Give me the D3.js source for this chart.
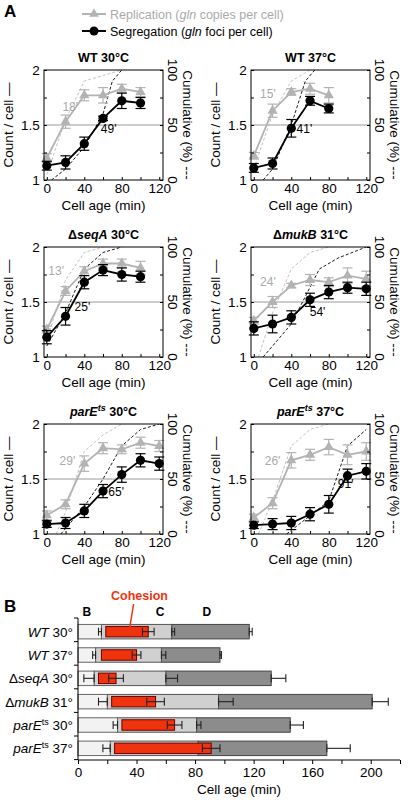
<!DOCTYPE html>
<html><head><meta charset="utf-8">
<script src="https://cdn.jsdelivr.net/npm/d3@7"></script>
<style>body{margin:0;background:#fff}text{font-family:Arial,"Liberation Sans",sans-serif}</style>
</head><body><svg id="c" width="408" height="800"></svg>
<script>
// Panel A data: [prefix, italic name, suffix]
const titles = [["", "WT", " 30°C"], ["", "WT", " 37°C"], ["Δ", "seqA", " 30°C"], ["Δ", "mukB", " 31°C"], ["", "parE", " 30°C"], ["", "parE", " 37°C"]];
const ages = [0, 20, 40, 60, 80, 100, 120];
const repValues = [
  [1.20, 1.53, 1.77, 1.77, 1.83, 1.80],
  [1.22, 1.63, 1.80, 1.83, 1.77],
  [1.25, 1.60, 1.78, 1.85, 1.85, 1.81],
  [1.33, 1.50, 1.65, 1.70, 1.68, 1.74, 1.71],
  [1.17, 1.27, 1.64, 1.78, 1.77, 1.83, 1.80],
  [1.15, 1.28, 1.67, 1.72, 1.79, 1.72, 1.75]
];
const repErr = [
  [0.04, 0.06, 0.05, 0.07, 0.04, 0.04],
  [0.03, 0.06, 0.03, 0.05, 0.07],
  [0.03, 0.04, 0.04, 0.04, 0.04, 0.06],
  [0.03, 0.05, 0.02, 0.05, 0.04, 0.07, 0.07],
  [0.04, 0.04, 0.07, 0.05, 0.04, 0.05, 0.05],
  [0.03, 0.05, 0.07, 0.05, 0.07, 0.09, 0.08]
];
const segValues = [
  [1.13, 1.16, 1.33, 1.56, 1.72, 1.70],
  [1.11, 1.15, 1.47, 1.72, 1.65],
  [1.18, 1.37, 1.68, 1.79, 1.75, 1.73],
  [1.26, 1.30, 1.36, 1.52, 1.59, 1.63, 1.62],
  [1.09, 1.10, 1.21, 1.39, 1.54, 1.67, 1.64],
  [1.08, 1.09, 1.10, 1.18, 1.27, 1.53, 1.57]
];
const segErr = [
  [0.04, 0.06, 0.06, 0.02, 0.07, 0.05],
  [0.04, 0.05, 0.08, 0.04, 0.04],
  [0.06, 0.08, 0.06, 0.05, 0.06, 0.05],
  [0.06, 0.08, 0.06, 0.06, 0.06, 0.05, 0.06],
  [0.03, 0.05, 0.06, 0.06, 0.07, 0.06, 0.06],
  [0.03, 0.05, 0.06, 0.06, 0.08, 0.06, 0.07]
];
const repCum = [
  [[0, 5], [20, 55], [40, 90], [60, 95], [80, 100]],
  [[0, 10], [20, 60], [40, 90], [60, 100]],
  [[0, 15], [20, 70], [40, 95], [60, 100]],
  [[5, 0], [20, 40], [40, 80], [60, 95], [80, 100]],
  [[10, 0], [20, 20], [40, 75], [60, 90], [80, 100]],
  [[5, 0], [20, 30], [40, 80], [60, 95], [80, 100]]
];
const segCum = [
  [[5, 0], [20, 10], [40, 30], [60, 60], [70, 90], [80, 100]],
  [[10, 0], [20, 10], [40, 50], [55, 90], [65, 100]],
  [[0, 10], [20, 40], [40, 80], [60, 95], [80, 100]],
  [[10, 0], [40, 30], [70, 80], [90, 90], [120, 100]],
  [[15, 0], [40, 25], [60, 50], [80, 80], [100, 95], [120, 100]],
  [[35, 0], [80, 30], [100, 80], [120, 95]]
];
const repLabel = [["18'", 25, 1.63], ["15'", 15, 1.75], ["13'", 10, 1.75], ["24'", 15, 1.65], ["29'", 22, 1.63], ["26'", 20, 1.63]];
const segLabel = [["49'", 66, 1.43], ["41'", 54, 1.43], ["25'", 38, 1.42], ["54'", 68, 1.37], ["65'", 74, 1.35], ["91'", 98, 1.42]];

// Panel B data
const strains = [["", "WT", " 30°", ""], ["", "WT", " 37°", ""], ["Δ", "seqA", " 30°", ""], ["Δ", "mukB", " 31°", ""], ["", "parE", " 30°", "ts"], ["", "parE", " 37°", "ts"]];
const bEnd = [16, 12, 11, 20, 27, 22], bErr = [2, 2, 7, 6, 3, 5];
const cEnd = [64, 57, 60, 96, 81, 82], cErr = [2, 3, 8, 10, 3, 0];
const dEnd = [117, 97, 132, 201, 145, 170], dErr = [2, 1, 10, 11, 9, 16];
const cohStart = [19, 16, 14, 23, 30, 25], cohEnd = [48, 40, 26, 53, 66, 91], cohErr = [4, 3, 5, 6, 5, 6];

const svg = d3.select('#c');
const grey = '#b3b3b3';

svg.append('text').attr('x', 4).attr('y', 17).attr('font-size', 17).attr('font-weight', 'bold').text('A');
svg.append('text').attr('x', 4).attr('y', 612).attr('font-size', 17).attr('font-weight', 'bold').text('B');

// legend
const lg = svg.append('g');
lg.append('line').attr('x1', 82).attr('x2', 106).attr('y1', 14).attr('y2', 14).attr('stroke', grey).attr('stroke-width', 2);
lg.append('path').attr('d', d3.symbol(d3.symbolTriangle, 40)()).attr('transform', 'translate(94,14)').attr('fill', grey);
lg.append('text').attr('x', 110).attr('y', 19).attr('font-size', 12.5).attr('fill', '#aaa')
  .html('Replication (<tspan font-style="italic">gln</tspan> copies per cell)');
lg.append('line').attr('x1', 82).attr('x2', 106).attr('y1', 31).attr('y2', 31).attr('stroke', '#000').attr('stroke-width', 2);
lg.append('circle').attr('cx', 94).attr('cy', 31).attr('r', 4.5);
lg.append('text').attr('x', 110).attr('y', 36).attr('font-size', 12.5)
  .html('Segregation (<tspan font-style="italic">gln</tspan> foci per cell)');

function panel(i) {
  const col = i % 2, row = Math.floor(i / 2);
  const left = col ? 251 : 44, top = 70 + row * 177;
  const w = 119, h = 110;
  const g = svg.append('g').attr('transform', `translate(${left},${top})`);
  const x = d3.scaleLinear().domain([-3, 124]).range([0, w]);
  const y = d3.scaleLinear().domain([1, 2]).range([h, 0]);
  const yr = d3.scaleLinear().domain([0, 100]).range([h, 0]);

  const t = g.append('text').attr('x', w / 2).attr('y', -8).attr('text-anchor', 'middle')
    .attr('font-size', 12.5).attr('font-weight', 'bold');
  if (titles[i][0]) t.append('tspan').text(titles[i][0]);
  t.append('tspan').attr('font-style', i >= 2 ? 'italic' : null).text(titles[i][1]);
  if (i >= 4) t.append('tspan').attr('font-style', 'italic').attr('font-size', 9).attr('dy', -5).text('ts');
  t.append('tspan').attr('dy', i >= 4 ? 5 : 0).text(titles[i][2]);

  g.append('line').attr('x1', 0).attr('x2', w).attr('y1', y(1.5)).attr('y2', y(1.5)).attr('stroke', '#bbb').attr('stroke-width', 1.3);

  const clip = 'clip' + i;
  g.append('clipPath').attr('id', clip).append('rect').attr('width', w).attr('height', h);
  const lineR = d3.line().x(d => x(d[0])).y(d => yr(d[1]));
  g.append('path').attr('clip-path', `url(#${clip})`).attr('d', lineR(repCum[i])).attr('fill', 'none').attr('stroke', '#bbb').attr('stroke-dasharray', '3,2').attr('stroke-width', 0.9);
  g.append('path').attr('clip-path', `url(#${clip})`).attr('d', lineR(segCum[i])).attr('fill', 'none').attr('stroke', '#000').attr('stroke-dasharray', '3,2').attr('stroke-width', 0.9);

  function series(vals, errs, colr, sym) {
    const pts = vals.map((v, k) => [ages[k], v, errs[k]]);
    g.append('path').attr('d', d3.line().x(d => x(d[0])).y(d => y(d[1]))(pts)).attr('fill', 'none').attr('stroke', colr).attr('stroke-width', 1.8);
    const e = g.append('g').attr('stroke', colr).attr('stroke-width', 1.2);
    pts.forEach(d => {
      e.append('line').attr('x1', x(d[0])).attr('x2', x(d[0])).attr('y1', y(d[1] - d[2])).attr('y2', y(d[1] + d[2]));
      [d[1] - d[2], d[1] + d[2]].forEach(v => e.append('line').attr('x1', x(d[0]) - 5).attr('x2', x(d[0]) + 5).attr('y1', y(v)).attr('y2', y(v)));
    });
    pts.forEach(d => {
      if (sym) g.append('path').attr('d', d3.symbol(d3.symbolTriangle, 45)()).attr('transform', `translate(${x(d[0])},${y(d[1])})`).attr('fill', colr);
      else g.append('circle').attr('cx', x(d[0])).attr('cy', y(d[1])).attr('r', 4.6).attr('fill', colr);
    });
  }
  series(repValues[i], repErr[i], grey, true);
  series(segValues[i], segErr[i], '#000', false);

  g.append('text').attr('x', x(repLabel[i][1])).attr('y', y(repLabel[i][2])).attr('text-anchor', 'middle').attr('font-size', 12).attr('fill', '#aaa').text(repLabel[i][0]);
  g.append('text').attr('x', x(segLabel[i][1])).attr('y', y(segLabel[i][2])).attr('text-anchor', 'middle').attr('font-size', 12).text(segLabel[i][0]);

  g.append('rect').attr('width', w).attr('height', h).attr('fill', 'none').attr('stroke', '#000').attr('stroke-width', 1);
  const xa = g.append('g').attr('transform', `translate(0,${h})`)
    .call(d3.axisBottom(x).tickValues([0, 20, 40, 60, 80, 100, 120]).tickSize(-3).tickFormat(d => d % 40 === 0 ? d : ''));
  const ya = g.append('g').call(d3.axisLeft(y).tickValues([1, 1.25, 1.5, 1.75, 2]).tickSize(-3).tickFormat(d => d % 0.5 === 0 ? d : ''));
  const ra = g.append('g').attr('transform', `translate(${w},0)`).call(d3.axisRight(yr).tickValues([0, 25, 50, 75, 100]).tickSize(-3).tickFormat(''));
  [xa, ya, ra].forEach(a => { a.select('.domain').remove(); a.selectAll('text').attr('font-size', 13.5).attr('fill', '#000'); });
  xa.selectAll('text').attr('y', 1).attr('dy', '0.9em');
  ya.selectAll('text').attr('dx', '-0.1em');
  [0, 50, 100].forEach(v => g.append('text').attr('transform', `translate(${w + 5},${yr(v)}) rotate(90)`)
    .attr('text-anchor', 'middle').attr('font-size', 13.5).text(v));

  g.append('text').attr('x', w / 2).attr('y', h + 30).attr('text-anchor', 'middle').attr('font-size', 13.5).text('Cell age (min)');
  g.append('text').attr('transform', `translate(-31,${h / 2}) rotate(-90)`).attr('text-anchor', 'middle').attr('font-size', 13.5).text('Count / cell —');
  g.append('text').attr('transform', `translate(${w + 20},${h / 2}) rotate(90)`).attr('text-anchor', 'middle').attr('font-size', 13.5).text('Cumulative (%) ---');
}
d3.range(6).forEach(panel);

// Panel B
const bx = d3.scaleLinear().domain([0, 220]).range([78, 400]);
const by = d3.scaleBand().domain(d3.range(6)).range([620, 760]).paddingInner(0.38).paddingOuter(0.19);
const gb = svg.append('g');
const bh = by.bandwidth();

// lo/hi: how far the whisker reaches below and above the value
function whisker(v, lo, hi, yc) {
  const g = gb.append('g').attr('stroke', '#222').attr('stroke-width', 1.1);
  g.append('line').attr('x1', bx(v - lo)).attr('x2', bx(v + hi)).attr('y1', yc).attr('y2', yc);
  [v - lo, v + hi].forEach(p => g.append('line').attr('x1', bx(p)).attr('x2', bx(p)).attr('y1', yc - 4).attr('y2', yc + 4));
}
d3.range(6).forEach(i => {
  const y0 = by(i), yc = y0 + bh / 2;
  gb.append('rect').attr('x', bx(cEnd[i])).attr('y', y0).attr('width', bx(dEnd[i]) - bx(cEnd[i])).attr('height', bh).attr('fill', '#8c8c8c').attr('stroke', '#444');
  gb.append('rect').attr('x', bx(bEnd[i])).attr('y', y0).attr('width', bx(cEnd[i]) - bx(bEnd[i])).attr('height', bh).attr('fill', '#d0d0d0').attr('stroke', '#555');
  gb.append('rect').attr('x', bx(0)).attr('y', y0).attr('width', bx(bEnd[i]) - bx(0)).attr('height', bh).attr('fill', '#f2f2f2').attr('stroke', '#666');
  gb.append('rect').attr('x', bx(cohStart[i])).attr('y', y0 + 2).attr('width', bx(cohEnd[i]) - bx(cohStart[i])).attr('height', bh - 4).attr('fill', '#f0330f').attr('stroke', '#600').attr('stroke-width', 1);
  whisker(bEnd[i], bErr[i], 0, yc);
  if (cErr[i]) whisker(cEnd[i], 0, cErr[i], yc);
  whisker(dEnd[i], 0, dErr[i], yc);
  whisker(cohEnd[i], cohErr[i], cohErr[i], yc);
  const lab = gb.append('text').attr('x', 73).attr('y', yc + 5).attr('text-anchor', 'end').attr('font-size', 13.5);
  if (strains[i][0]) lab.append('tspan').text(strains[i][0]);
  lab.append('tspan').attr('font-style', 'italic').text(strains[i][1]);
  if (strains[i][3]) lab.append('tspan').attr('font-size', 9).attr('dy', -5).text(strains[i][3]);
  lab.append('tspan').attr('dy', strains[i][3] ? 5 : 0).text(strains[i][2]);
});
gb.append('line').attr('x1', 78).attr('x2', 78).attr('y1', 618).attr('y2', 760).attr('stroke', '#000');
d3.range(7).forEach(i => gb.append('line').attr('x1', 74).attr('x2', 78).attr('y1', 618 + i * 23.6).attr('y2', 618 + i * 23.6).attr('stroke', '#000'));
const bxa = gb.append('g').attr('transform', 'translate(0,760)')
  .call(d3.axisBottom(bx).tickValues(d3.range(0, 221, 20)).tickSize(4).tickFormat(d => d % 40 === 0 ? d : ''));
bxa.selectAll('text').attr('font-size', 13.5).attr('fill', '#000');
bxa.select('.domain').attr('d', 'M78,0H400');
gb.append('text').attr('x', bx(110)).attr('y', 794).attr('text-anchor', 'middle').attr('font-size', 13.5).text('Cell age (min)');
[['B', 6], ['C', 56], ['D', 88]].forEach(d => gb.append('text').attr('x', bx(d[1])).attr('y', 616).attr('text-anchor', 'middle').attr('font-size', 12).attr('font-weight', 'bold').text(d[0]));
gb.append('text').attr('x', bx(42)).attr('y', 600).attr('text-anchor', 'middle').attr('font-size', 12.5).attr('font-weight', 'bold').attr('fill', '#f0330f').text('Cohesion');
gb.append('line').attr('x1', bx(38)).attr('x2', bx(35)).attr('y1', 604).attr('y2', by(0) + 6).attr('stroke', '#f0330f').attr('stroke-width', 1.5);
</script></body></html>
